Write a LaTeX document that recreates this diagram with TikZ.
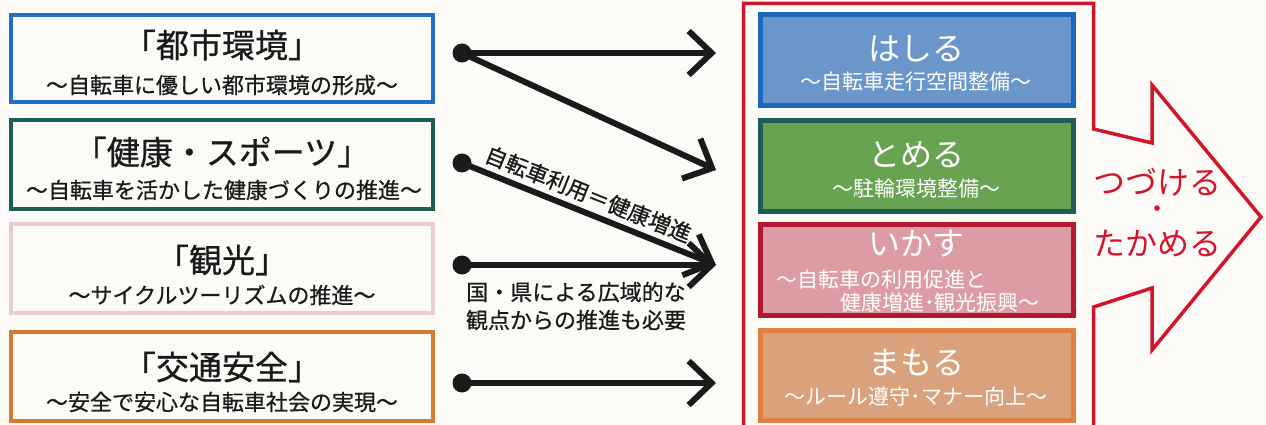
\documentclass[tikz,border=0pt]{standalone}
\usepackage{fontspec}
\setmainfont{Noto Sans CJK JP}
\newfontfamily\boldishfont[FakeBold=0.7]{Noto Sans CJK JP}
\usetikzlibrary{arrows.meta}
\definecolor{paper}{HTML}{FCFBF7}
\definecolor{lblue}{HTML}{1F6FC6}
\definecolor{lteal}{HTML}{1F5C55}
\definecolor{lpink}{HTML}{E9CCCC}
\definecolor{lorange}{HTML}{D9782F}
\definecolor{fblue}{HTML}{6B96C9}
\definecolor{dblue}{HTML}{1C68BF}
\definecolor{fgreen}{HTML}{68A352}
\definecolor{fpink}{HTML}{DD9CA4}
\definecolor{dred}{HTML}{B3182F}
\definecolor{ftan}{HTML}{D9A27D}
\definecolor{dorange}{HTML}{E0823F}
\definecolor{frame}{HTML}{D2152B}
\definecolor{ink}{HTML}{1A1A1A}
\begin{document}
\begin{tikzpicture}[x=1pt,y=-1pt,
  lbox/.style={draw, line width=3.5pt, minimum width=422pt, inner sep=0pt},
  rbox/.style={draw, line width=5pt, minimum width=313pt, inner sep=0pt},
  ltitle/.style={text=ink, font=\boldishfont\fontsize{33}{36}\selectfont, inner sep=0pt},
  lsub/.style={text=ink, font=\boldishfont\fontsize{22}{26}\selectfont, inner sep=0pt},
  rtitle/.style={text=white, font=\fontsize{32}{36}\selectfont, inner sep=0pt},
  rsub/.style={text=white, font=\fontsize{21}{24}\selectfont, inner sep=0pt},
  dotnode/.style={circle, fill=ink, minimum size=19pt, inner sep=0pt},
  conn/.style={draw=ink, line width=6pt, -{Straight Barb[length=23pt,width=44pt]}},
  note/.style={text=ink, font=\boldishfont\fontsize{22}{28}\selectfont, inner sep=0pt},
  redtext/.style={text=frame, font=\fontsize{32}{36}\selectfont, inner sep=0pt}
]
\useasboundingbox (0,0) rectangle (1266,425);
\fill[paper] (0,0) rectangle (1266,425);

% left boxes
\node[lbox, draw=lblue, minimum height=87pt] (L1) at (222,58.5) {};
\node[lbox, draw=lteal, minimum height=89pt] (L2) at (222,164.5) {};
\node[lbox, draw=lpink, minimum height=89pt] (L3) at (222,268.5) {};
\node[lbox, draw=lorange, minimum height=89pt] (L4) at (222,376.5) {};

\node[ltitle] (L1t) at (222,45) {「都市環境」};
\node[lsub] (L1s) at (222,85) {〜自転車に優しい都市環境の形成〜};
\node[ltitle] (L2t) at (222,152) {「健康・スポーツ」};
\node[lsub] (L2s) at (224,190) {〜自転車を活かした健康づくりの推進〜};
\node[ltitle] (L3t) at (222,260) {「観光」};
\node[lsub] (L3s) at (222,295) {〜サイクルツーリズムの推進〜};
\node[ltitle] (L4t) at (222,367) {「交通安全」};
\node[lsub] (L4s) at (222,402) {〜安全で安心な自転車社会の実現〜};

% red arrow frame
\draw[frame, line width=3.5pt, line join=miter]
  (743.5,440) -- (743.5,3.5) -- (1093.5,3.5) -- (1093.5,129) -- (1152,143)
  -- (1152,85) -- (1261,217) -- (1152,350) -- (1152,288) -- (1093.5,307) -- (1093.5,440);

% right boxes
\node[rbox, draw=dblue, fill=fblue, minimum height=91pt] (R1) at (916.5,60) {};
\node[rbox, draw=lteal, fill=fgreen, minimum height=91pt] (R2) at (916.5,166) {};
\node[rbox, draw=dred, fill=fpink, minimum height=91pt] (R3) at (916.5,270) {};
\node[rbox, draw=dorange, fill=ftan, minimum height=89.5pt] (R4) at (916.5,375.25) {};

\node[rtitle] (R1t) at (916,49) {はしる};
\node[rsub] (R1s) at (916,82) {〜自転車走行空間整備〜};
\node[rtitle] (R2t) at (916,155) {とめる};
\node[rsub] (R2s) at (916,188) {〜駐輪環境整備〜};
\node[rtitle] (R3t) at (916,244) {いかす};
\node[rsub, anchor=west] (R3s1) at (776,280) {〜自転車の利用促進と};
\node[rsub, anchor=east] (R3s2) at (1040,303) {健康増進･観光振興〜};
\node[rtitle] (R4t) at (916,363) {まもる};
\node[rsub] (R4s) at (916,397) {〜ルール遵守･マナー向上〜};

\node[redtext] (T1) at (1157,182) {つづける};
\node[redtext, font=\fontsize{26}{30}\selectfont] (T2) at (1157,212) {・};
\node[redtext] (T3) at (1157,243) {たかめる};

% connectors
\node[dotnode] (s1) at (462,53) {};
\node[dotnode] (s2) at (462,163) {};
\node[dotnode] (s3) at (462,265) {};
\node[dotnode] (s4) at (462,383) {};
\coordinate (e1) at (716,53);
\coordinate (e2) at (716,170);
\coordinate (e3) at (716,265);
\coordinate (e4) at (716,383);

\draw[conn] (s1.center) -- (e1);
\draw[conn] (s1.center) -- (e2);
\draw[conn] (s2.center) -- (e3) node[midway, sloped, above=5pt, note, xshift=-8pt] (lab) {自転車利用＝健康増進};
\draw[conn] (s3.center) -- (e3);
\draw[conn] (s4.center) -- (e4);

\node[note, align=center] (N) at (576,306) {国・県による広域的な\\観点からの推進も必要};
\end{tikzpicture}
\end{document}
